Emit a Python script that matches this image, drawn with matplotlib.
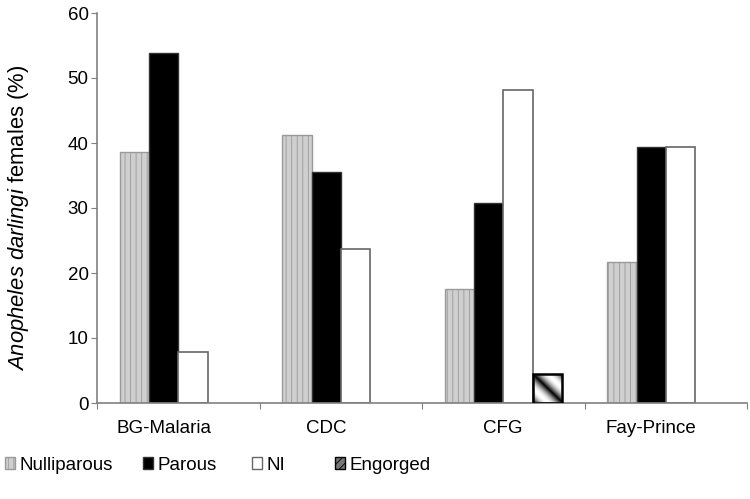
import numpy as np
import matplotlib.pyplot as plt
from matplotlib.patches import Patch

plt.rcParams['font.family'] = ['Liberation Sans', 'DejaVu Sans']
plt.rcParams['mathtext.fontset'] = 'custom'
plt.rcParams['mathtext.it'] = 'Liberation Sans:italic'
plt.rcParams['mathtext.rm'] = 'Liberation Sans'
plt.rcParams['hatch.linewidth'] = 0.6

# data
traps = ['BG-Malaria', 'CDC', 'CFG', 'Fay-Prince']
nulliparous = [38.6, 41.3, 17.6, 21.7]
parous = [53.8, 35.5, 30.7, 39.4]
ni = [7.9, 23.7, 48.2, 39.4]
engorged = [0, 0, 4.4, 0]

w = 0.18
centers = np.arange(len(traps)) + 0.5

fig = plt.figure(figsize=(7.5, 4.99), dpi=100)
ax = fig.add_axes([97/750, 1-403/499, 650/750, 390/499])

ax.bar(centers - 1.5*w, nulliparous, w, color='#cfcfcf', edgecolor='#9a9a9a',
       hatch='|||', linewidth=1.0)
ax.bar(centers - 0.5*w, parous, w, color='black', edgecolor='#333333', linewidth=1.0)
ax.bar(centers + 0.5*w, ni, w, color='white', edgecolor='#666666', linewidth=1.2)

# engorged bars get a diagonal black-white gradient
yy, xx = np.mgrid[0:1:60j, 0:1:60j]
g = np.abs(np.sin((xx + (1 - yy)) * np.pi * 1.0))
for c, v in zip(centers, engorged):
    if v <= 0:
        continue
    x0 = c + 1.0*w
    b = ax.bar(c + 1.5*w, v, w, color='none', edgecolor='black',
               linewidth=1.8, zorder=3)[0]
    im = ax.imshow(g, cmap='gray', extent=[x0, x0 + w, 0, v], aspect='auto',
                   origin='upper', zorder=2, vmin=0, vmax=1)
    im.set_clip_path(b)

ax.set_xlim(0, 4)
ax.set_ylim(0, 60)
ax.set_yticks(range(0, 61, 10))
ax.set_xticks(range(0, 5))
ax.set_xticklabels([])

# category label sits under the middle of the bars that are drawn
label_pos = []
for i, c in enumerate(centers):
    n = 4 if engorged[i] > 0 else 3
    label_pos.append(c - 1.5*w + (n - 1) * w / 2)
ax.set_xticks(label_pos, minor=True)
ax.set_xticklabels(traps, minor=True, fontsize=13.5)
ax.tick_params(axis='x', which='minor', length=0, pad=12)
ax.tick_params(axis='x', which='major', length=4, color='#808080')
ax.tick_params(axis='y', length=4, color='#808080', labelsize=13.5, pad=2)
for s in ['top', 'right']:
    ax.spines[s].set_visible(False)
for s in ['left', 'bottom']:
    ax.spines[s].set_color('#808080')
    ax.spines[s].set_linewidth(1.2)

ax.set_ylabel(r'$\it{Anopheles\ darlingi}$ females (%)', fontsize=15.8)
ax.yaxis.set_label_coords(-0.101, 0.475)

handles = [
    Patch(facecolor='#cfcfcf', edgecolor='#9a9a9a', hatch='|||', label='Nulliparous'),
    Patch(facecolor='black', edgecolor='#333333', label='Parous'),
    Patch(facecolor='white', edgecolor='#666666', label='NI'),
    Patch(facecolor='#777777', edgecolor='black', hatch='////', label='Engorged'),
]
legend_x = [5, 143, 252, 335]
for h, lx in zip(handles, legend_x):
    fig.legend(handles=[h], loc='center left', bbox_to_anchor=(lx/750, 1-465/499),
               frameon=False, fontsize=13.5, handlelength=0.55, handleheight=0.55,
               handletextpad=0.2, borderpad=0, borderaxespad=0)

fig.savefig('out.png', dpi=100)
